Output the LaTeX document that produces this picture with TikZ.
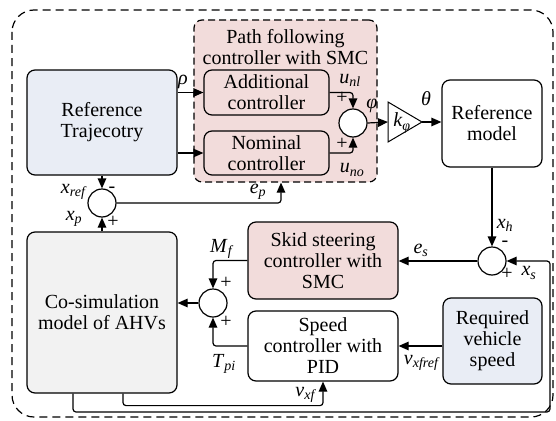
\documentclass[tikz,border=0pt]{standalone}
\usepackage{fontspec}
\setmainfont{Liberation Serif}
\usetikzlibrary{arrows.meta}
\definecolor{trajblue}{RGB}{233,237,245}
\definecolor{smcpink}{RGB}{242,220,219}
\definecolor{plantgray}{RGB}{242,242,242}
% signal name with italic subscript
\newcommand\sig[2]{\textit{#1}\textsubscript{\textit{#2}}}
\begin{document}
\begin{tikzpicture}[x=1pt,y=-1pt,
  every node/.style={font=\fontsize{20}{21}\selectfont},
  block/.style={draw, line width=1.2pt, rounded corners=8pt, align=center, inner sep=0pt},
  sumnode/.style={draw, circle, line width=1.2pt, fill=white, minimum size=28pt, inner sep=0pt},
  tag/.style={inner sep=0.5pt},
  wire/.style={line width=1.2pt, rounded corners=3pt},
  flow/.style={wire, -{Triangle[length=10pt,width=8.5pt]}},
]
\useasboundingbox (0,0) rectangle (556,420);

% outer frame of the whole control scheme
\draw[line width=1.2pt, dash pattern=on 8pt off 5pt, rounded corners=22pt] (12,10) rectangle (553,417);

% path following controller group
\node[draw, line width=1.2pt, fill=smcpink, dash pattern=on 7pt off 4pt, rounded corners=8pt,
      minimum width=183pt, minimum height=162pt, inner sep=0pt] (pfc) at (285.5,101) {};
\node[align=center] (pfctitle) at (285.5,47) {Path following\\controller with SMC};

% blocks
\node[block, fill=trajblue, minimum width=150pt, minimum height=105pt] (rt) at (102,122.5) {Reference\\Trajecotry};
\node[block, minimum width=125pt, minimum height=45pt] (add) at (266.5,92.5) {Additional\\controller};
\node[block, minimum width=125pt, minimum height=44pt] (nom) at (266.5,153) {Nominal\\controller};
\node[block, minimum width=100pt, minimum height=87pt] (rm) at (492,123.5) {Reference\\model};
\node[block, fill=smcpink, minimum width=150pt, minimum height=77pt] (skid) at (323,260.5) {Skid steering\\controller with\\SMC};
\node[block, minimum width=150pt, minimum height=70pt] (spd) at (323,346) {Speed\\controller with\\PID};
\node[block, fill=trajblue, minimum width=99pt, minimum height=86pt] (req) at (492.5,341) {Required\\vehicle\\speed};
\node[block, fill=plantgray, minimum width=150pt, minimum height=161pt] (cs) at (102,312.5) {Co-simulation\\model of AHVs};

% summing junctions
\node[sumnode] (s0) at (102,203) {};
\node[sumnode] (s1) at (353,123) {};
\node[sumnode] (s2) at (492,261) {};
\node[sumnode] (s3) at (213,303) {};

% gain k_phi
\draw[line width=1pt, fill=white] (388,102) -- (422,122) -- (388,142) -- cycle;
\coordinate (gin) at (388,122);
\coordinate (gout) at (422,122);
\node[tag] (gainlabel) at (402,123) {\sig{k}{φ}};

% signal flow
\draw[flow] (add.west -| rt.east) -- (add.west);
\draw[flow] (nom.west -| rt.east) -- (nom.west);
\draw[flow] (add.east) -| (s1.north);
\draw[flow] (nom.east) -| (s1.south);
\draw[flow] (s1.east) -- (gin);
\draw[flow] (gout) -- (gout -| rm.west);
\draw[flow] (rm.south) -- (s2.north);
\draw[flow] (s2.west) -- (s2.west -| skid.east);
\draw[flow] (req.west |- spd.east) -- (spd.east);
\draw[flow] (skid.west) -| (s3.north);
\draw[flow] (spd.west) -| (s3.south);
\draw[flow] (s3.west) -- (s3.west -| cs.east);
\draw[flow] (cs.north) -- (s0.south);
\draw[flow] (rt.south) -- (s0.north);
\draw[flow] (s0.east) -| ([xshift=-4.5pt]pfc.south);
\draw[flow] ([xshift=21pt]cs.south) -- ++(0,12) -| (spd.south);
\coordinate (rail) at (550,412);
\draw[flow] ([xshift=-29pt]cs.south) |- (rail) |- (s2.east);

% signal labels
\node[tag] at (183,82) {\textit{ρ}};
\node[tag] at (350,80) {\sig{u}{nl}};
\node[tag] at (352,170) {\sig{u}{no}};
\node[tag] at (372,106) {\textit{φ}};
\node[tag] at (342,98) {+};
\node[tag] at (342,144) {+};
\node[tag] at (426,99) {\textit{θ}};
\node[tag] at (74,192) {\sig{x}{ref}};
\node[tag] at (112,190) {-};
\node[tag] at (74,219) {\sig{x}{p}};
\node[tag] at (113,222) {+};
\node[tag] at (258,192) {\sig{e}{p}};
\node[tag] at (505,225) {\sig{x}{h}};
\node[tag] at (505,244) {-};
\node[tag] at (507,274) {+};
\node[tag] at (529,273) {\sig{x}{s}};
\node[tag] at (421,250) {\sig{e}{s}};
\node[tag] at (422,363) {\sig{v}{xfref}};
\node[tag] at (222,249) {\sig{M}{f}};
\node[tag] at (226,283) {+};
\node[tag] at (226,322) {+};
\node[tag] at (224,364) {\sig{T}{pi}};
\node[tag] at (306,395) {\sig{v}{xf}};
\end{tikzpicture}
\end{document}
